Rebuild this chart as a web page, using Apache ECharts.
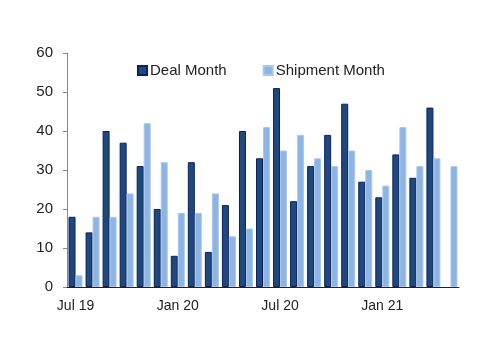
<!DOCTYPE html>
<html>
<head>
<meta charset="utf-8">
<script src="https://cdn.jsdelivr.net/npm/echarts@6/dist/echarts.min.js"></script>
<style>
  html, body { margin: 0; padding: 0; background: #fff; }
  #grafico { width: 500px; height: 353px; }
</style>
</head>
<body>
<div id="grafico"></div>
<script>
var meses = ['Jul 19', 'Aug 19', 'Sep 19', 'Oct 19', 'Nov 19', 'Dec 19',
    'Jan 20', 'Feb 20', 'Mar 20', 'Apr 20', 'May 20', 'Jun 20',
    'Jul 20', 'Aug 20', 'Sep 20', 'Oct 20', 'Nov 20', 'Dec 20',
    'Jan 21', 'Feb 21', 'Mar 21', 'Apr 21', 'May 21'];

var deal_month = [18, 14, 40, 37, 31, 20, 8, 32, 9, 21, 40, 33,
    51, 22, 31, 39, 47, 27, 23, 34, 28, 46, null];

var shipment_month = [3, 18, 18, 24, 42, 32, 19, 19, 24, 13, 15, 41,
    35, 39, 33, 31, 35, 30, 26, 41, 31, 33, 31];

var myChart = echarts.init(document.getElementById('grafico'));

var option = {
    animation: false,
    textStyle: { fontFamily: 'Liberation Sans, Arial, sans-serif' },
    legend: {
        top: 58,
        left: 132,
        itemWidth: 9,
        itemHeight: 9,
        itemGap: 36,
        icon: 'rect',
        textStyle: { fontSize: 15, color: '#222', padding: [0, 0, 0, -2] },
        data: ['Deal Month', 'Shipment Month']
    },
    grid: {
        left: 67,
        right: 41,
        top: 53,
        bottom: 66
    },
    xAxis: {
        type: 'category',
        data: meses,
        axisLine: { lineStyle: { color: '#222', width: 1 } },
        axisTick: { interval: 2, length: 4, inside: false, lineStyle: { color: '#222' } },
        axisLabel: { interval: 5, fontSize: 14, color: '#222', margin: 12 }
    },
    yAxis: {
        type: 'value',
        min: 0,
        max: 60,
        interval: 10,
        splitLine: { show: false },
        axisLine: { show: true, lineStyle: { color: '#888' } },
        axisTick: { show: true, length: 4, lineStyle: { color: '#888' } },
        axisLabel: { fontSize: 15, color: '#222', margin: 14 }
    },
    series: [
        {
            name: 'Deal Month',
            type: 'bar',
            data: deal_month,
            barWidth: 7,
            barGap: '0%',
            itemStyle: { color: '#1F497D', borderColor: '#0A2060', borderWidth: 1 }
        },
        {
            name: 'Shipment Month',
            type: 'bar',
            data: shipment_month,
            barWidth: 7,
            itemStyle: { color: '#8DB4E2', borderColor: '#A9C8EC', borderWidth: 1 }
        }
    ]
};

myChart.setOption(option);
</script>
</body>
</html>
